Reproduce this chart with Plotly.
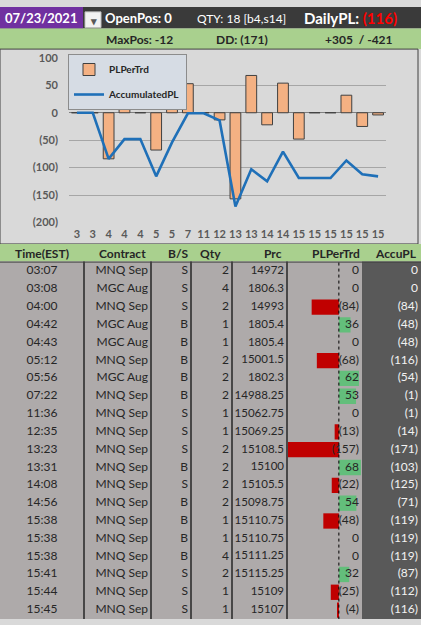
import plotly.graph_objects as go

W, H = 421, 625
FONT = "Lato"

# header info
trade_date = "07/23/2021"
open_pos = 0
qty_text = "QTY: 18 [b4,s14]"
daily_pl = -116
max_pos = -12
drawdown = -171
best, worst = 305, -421

# trade log
times = ["03:07", "03:08", "04:00", "04:42", "04:43", "05:12", "05:56", "07:22", "11:36", "12:35",
         "13:23", "13:31", "14:08", "14:56", "15:38", "15:38", "15:38", "15:41", "15:44", "15:45"]
hours = [3, 3, 4, 4, 4, 5, 5, 7, 11, 12, 13, 13, 14, 14, 15, 15, 15, 15, 15, 15]
contracts = ["MNQ Sep", "MGC Aug", "MNQ Sep", "MGC Aug", "MGC Aug", "MNQ Sep", "MGC Aug", "MNQ Sep",
             "MNQ Sep", "MNQ Sep", "MNQ Sep", "MNQ Sep", "MNQ Sep", "MNQ Sep", "MNQ Sep", "MNQ Sep",
             "MNQ Sep", "MNQ Sep", "MNQ Sep", "MNQ Sep"]
sides = ["S", "S", "S", "B", "B", "B", "B", "B", "S", "S", "S", "B", "S", "B", "B", "B", "B", "S", "S", "S"]
qtys = [2, 4, 2, 1, 1, 2, 2, 2, 1, 1, 2, 2, 2, 2, 1, 1, 4, 2, 1, 1]
prices = ["14972", "1806.3", "14993", "1805.4", "1805.4", "15001.5", "1802.3", "14988.25", "15062.75",
          "15069.25", "15108.5", "15100", "15105.5", "15098.75", "15110.75", "15110.75", "15111.25",
          "15115.25", "15109", "15107"]
pl_per_trd = [0, 0, -84, 36, 0, -68, 62, 53, 0, -13, -157, 68, -22, 54, -48, 0, 0, 32, -25, -4]
accu_pl = [0, 0, -84, -48, -48, -116, -54, -1, -1, -14, -171, -103, -125, -71, -119, -119, -119, -87, -112, -116]

y_ticks = [100, 50, 0, -50, -100, -150, -200]


def acct(v):
    return f"({abs(v)})" if v < 0 else str(v)


def px(x):
    return x / W


def py(y):
    return 1 - y / H


n = len(times)
rows = list(range(n))

fig = go.Figure()

# chart: bars + line
fig.add_trace(go.Bar(x=rows, y=pl_per_trd, name="PLPerTrd", width=0.68,
                     marker=dict(color="#f4b183", line=dict(color="#404040", width=1)),
                     legendgroup="a"))
fig.add_trace(go.Scatter(x=rows, y=accu_pl, name="AccumulatedPL", mode="lines",
                         line=dict(color="#1f70b8", width=2.6), legendgroup="b"))

# data bars in the PLPerTrd column
bar_cols = ["#c00000" if v < 0 else "#63be7b" for v in pl_per_trd]
fig.add_trace(go.Bar(x=pl_per_trd, y=rows, orientation="h", xaxis="x2", yaxis="y3",
                     marker=dict(color=bar_cols, line=dict(width=0)), width=0.86,
                     showlegend=False, hoverinfo="skip"))

# table text columns (right edge / centre, alignment, size)
cols = [
    (times, 42, "middle center", "#262626", 12),
    (contracts, 148, "middle left", "#262626", 12),
    (sides, 188, "middle left", "#262626", 12),
    ([str(q) for q in qtys], 229, "middle left", "#262626", 12),
    (prices, 284, "middle left", "#262626", 11.5),
    ([acct(v) for v in pl_per_trd], 359, "middle left", "#262626", 12),
    ([acct(v) for v in accu_pl], 418, "middle left", "#f2f2f2", 12),
]
for txt, xpos, pos, col, fs in cols:
    fig.add_trace(go.Scatter(x=[xpos] * n, y=rows, mode="text", text=txt, textposition=pos,
                             textfont=dict(family=FONT, size=fs, color=col),
                             xaxis="x3", yaxis="y3", showlegend=False, hoverinfo="skip",
                             cliponaxis=False))

shapes = []


def rect(x0, y0, x1, y1, fill, line=None, lw=0):
    shapes.append(dict(type="rect", xref="paper", yref="paper", x0=px(x0), x1=px(x1),
                       y0=py(y1), y1=py(y0), fillcolor=fill,
                       line=dict(color=line or fill, width=lw), layer="below"))


# backgrounds
rect(0, 0, W, 22, "#3a3a3a")
rect(0, 0, 83, 22, "#7030a0")
rect(0, 22, W, 43, "#a9d08e")
rect(0, 43, 418, 242, "#d9d9d9", "#404040", 1)
rect(0, 242, W, 260, "#a9d08e")
rect(0, 260, 362, H, "#aeaaaa")
rect(362, 260, W, H, "#595959")
# dropdown box
shapes.append(dict(type="rect", xref="paper", yref="paper", x0=px(85), x1=px(101), y0=py(21), y1=py(5),
                   fillcolor="#f2f2f2", line=dict(color="#bfbfbf", width=1)))
# column separators
for xc in [84, 151, 191, 232, 287]:
    shapes.append(dict(type="line", xref="paper", yref="paper", x0=px(xc), x1=px(xc), y0=py(260), y1=0,
                       line=dict(color="#262626", width=1.5)))
shapes.append(dict(type="line", xref="paper", yref="paper", x0=0, x1=1, y0=py(260.5), y1=py(260.5),
                   line=dict(color="#404040", width=1)))
# data bar axis
shapes.append(dict(type="line", xref="x2", yref="paper", x0=0, x1=0, y0=py(261), y1=0,
                   line=dict(color="#000000", width=1, dash="dot")))

ann = []


def text(x, y, s, size=12, color="#262626", bold=True, anchor="left"):
    ann.append(dict(x=px(x), y=py(y), xref="paper", yref="paper", text=s, showarrow=False,
                    xanchor=anchor, yanchor="middle",
                    font=dict(family=FONT, size=size, color=color, weight="bold" if bold else "normal")))


text(41, 11.5, trade_date, 13, "#ffffff", anchor="center")
text(93, 13.5, "▾", 11, "#595959", anchor="center")
text(103, 11.5, f"OpenPos: {open_pos}", 13, "#ffffff")
text(195, 11.5, qty_text, 12, "#ffffff", bold=False)
text(302, 11.5, "DailyPL: " + f"<span style='color:#ff0000'>{acct(daily_pl)}</span>", 15, "#ffffff")
text(104, 33, f"MaxPos: {max_pos}", 12)
text(214, 33, f"DD: {acct(drawdown)}", 12)
text(323, 33, f"+{best}  / {worst}", 12)

heads = [("Time(EST)", 42, "center"), ("Contract", 148, "right"), ("B/S", 190, "right"),
         ("Qty", 223, "right"), ("Prc", 284, "right"), ("PLPerTrd", 362, "right"), ("AccuPL", 419, "right")]
for h, xh, a in heads:
    text(xh, 251.5, h, 12, "#262626", anchor=a)

tickfont = dict(family=FONT, size=11, color="#595959", weight="bold")

fig.update_layout(
    width=W, height=H, margin=dict(l=0, r=0, t=0, b=0),
    paper_bgcolor="#d9d9d9", plot_bgcolor="rgba(0,0,0,0)",
    shapes=shapes, annotations=ann, bargap=0.3,
    xaxis=dict(domain=[px(69), px(386)], range=[-0.5, n - 0.5], tickvals=rows,
               ticktext=[str(h) for h in hours], tickfont=tickfont, showgrid=False,
               zeroline=False, showline=False, ticks="", ticklabelstandoff=4, fixedrange=True),
    yaxis=dict(domain=[py(220), py(52)], range=[-200, 100], tickvals=y_ticks,
               ticktext=[acct(v) for v in y_ticks], tickfont=tickfont, gridcolor="#a6a6a6",
               gridwidth=1, zeroline=True, zerolinecolor="#7f7f7f", zerolinewidth=1.2,
               showline=False, ticks="", ticklabelstandoff=10, fixedrange=True),
    xaxis2=dict(domain=[px(288), px(362)], range=[min(pl_per_trd), max(pl_per_trd) * 1.05],
                anchor="y3", visible=False, fixedrange=True),
    xaxis3=dict(domain=[0, 1], range=[0, W], anchor="y3", visible=False, fixedrange=True),
    yaxis3=dict(domain=[0, py(261)], range=[n - 0.5, -0.5], visible=False, fixedrange=True),
    legend=dict(x=px(68), y=py(48), xanchor="left", yanchor="top", bgcolor="#d6dce4",
                bordercolor="#8c8c8c", borderwidth=1, traceorder="grouped", tracegroupgap=6,
                itemwidth=30, font=dict(family=FONT, size=10, color="#262626", weight="bold")),
    showlegend=True,
)

# strip the default page margin and let the figure fill the window
fit_js = """
document.documentElement.style.margin='0';
document.body.style.margin='0';
document.body.style.overflow='hidden';
var gd = document.getElementById('{plot_id}');
Plotly.relayout(gd, {width: window.innerWidth, height: window.innerHeight});
"""

fig.write_html("out.html", config={"displayModeBar": False}, post_script=fit_js)
